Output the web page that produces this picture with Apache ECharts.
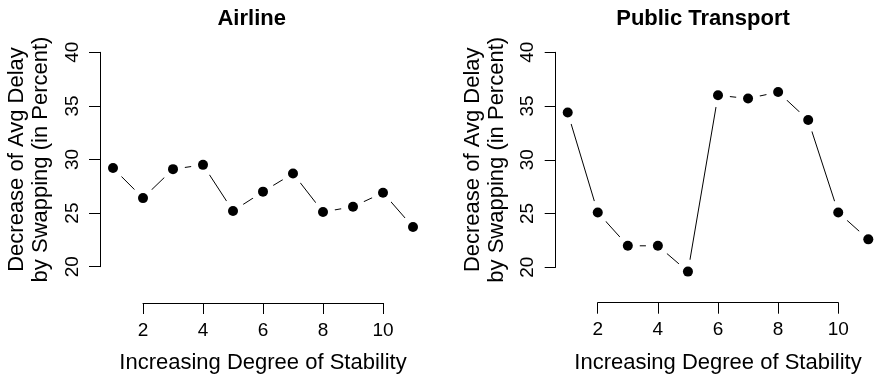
<!DOCTYPE html>
<html>
<head>
<meta charset="utf-8">
<script src="https://cdn.jsdelivr.net/npm/echarts@6/dist/echarts.min.js"></script>
<style>
  html, body { margin: 0; padding: 0; background: #fff; }
  #chart { width: 877px; height: 375px; }
</style>
</head>
<body>
<div id="chart"></div>
<script>
const stability = [1, 2, 3, 4, 5, 6, 7, 8, 9, 10, 11];
const airline = [29.2, 26.4, 29.1, 29.5, 25.2, 27.0, 28.7, 25.1, 25.6, 26.9, 23.7];
const publicTransport = [34.4, 25.1, 22.0, 22.0, 19.6, 36.0, 35.7, 36.3, 33.7, 25.1, 22.6];
const panelTitles = ['Airline', 'Public Transport'];
const xTitle = 'Increasing Degree of Stability';
const yTitle = 'Decrease of Avg Delay\nby Swapping (in Percent)';

const ink = '#000';
const font = 'Liberation Sans, Arial, Helvetica, sans-serif';

// plotting boxes: x 1..11, y 20..40 (R-like layout)
const plotGrids = [
  { left: 113, right: 464, top: 52.3, bottom: 108.3, outerBoundsMode: 'none' },
  { left: 567.7, right: 8.7, top: 52.3, bottom: 107.7, outerBoundsMode: 'none' },
];
// boxes that only carry the detached x axis (2..10)
const axisGrids = [
  { left: 143, right: 494, top: 52.3, bottom: 108.3, outerBoundsMode: 'none' },
  { left: 597.7, right: 38.7, top: 52.3, bottom: 107.7, outerBoundsMode: 'none' },
];
const yOffsets = [13, 12];
const xOffsets = [36.3, 35.4];

const chart = echarts.init(document.getElementById('chart'));

function pairs(values) {
  return stability.map((x, i) => [x, values[i]]);
}

const labelStyle = { fontFamily: font, fontSize: 19, color: ink };
const nameStyle = { fontFamily: font, fontSize: 22, color: ink, lineHeight: 24 };

const option = {
  animation: false,
  title: panelTitles.map((t, i) => ({
    text: t,
    left: i === 0 ? 251.7 : 703,
    top: 8,
    padding: 0,
    textAlign: 'center',
    textStyle: { fontFamily: font, fontSize: 22, fontWeight: 'bold', color: ink },
  })),
  grid: plotGrids.concat(axisGrids),
  xAxis: [],
  yAxis: [],
  series: [],
};

plotGrids.forEach((g, i) => {
  option.xAxis.push({
    type: 'value', gridIndex: i, min: 1, max: 11, show: false,
  });
  option.yAxis.push({
    type: 'value',
    gridIndex: i,
    min: 20, max: 40, interval: 5,
    offset: yOffsets[i],
    z: 10,
    name: yTitle,
    nameLocation: 'middle',
    nameRotate: 90,
    nameGap: 47,
    nameTextStyle: nameStyle,
    axisLine: { show: true, lineStyle: { color: ink, width: 1 } },
    axisTick: { show: true, length: 11, lineStyle: { color: ink, width: 1 } },
    axisLabel: Object.assign({ margin: 18, rotate: 90 }, labelStyle),
    splitLine: { show: false },
  });
});

axisGrids.forEach((g, i) => {
  option.xAxis.push({
    type: 'value',
    gridIndex: 2 + i,
    min: 2, max: 10, interval: 2,
    offset: xOffsets[i],
    z: 10,
    name: xTitle,
    nameLocation: 'middle',
    nameGap: 48,
    nameTextStyle: nameStyle,
    axisLine: { show: true, lineStyle: { color: ink, width: 1 } },
    axisTick: { show: true, length: 11, lineStyle: { color: ink, width: 1 } },
    axisLabel: Object.assign({ margin: 18 }, labelStyle),
    splitLine: { show: false },
  });
  option.yAxis.push({
    type: 'value', gridIndex: 2 + i, min: 20, max: 40, show: false,
  });
});

[airline, publicTransport].forEach((values, i) => {
  // line with white masks around the points (R type = "b")
  option.series.push({
    type: 'line',
    xAxisIndex: i, yAxisIndex: i,
    data: pairs(values),
    clip: false,
    symbol: 'circle',
    symbolSize: 24,
    itemStyle: { color: '#fff', borderWidth: 0, opacity: 1 },
    lineStyle: { color: ink, width: 1 },
    z: 2,
  });
  option.series.push({
    type: 'scatter',
    xAxisIndex: i, yAxisIndex: i,
    data: pairs(values),
    clip: false,
    symbol: 'circle',
    symbolSize: 10,
    itemStyle: { color: ink, opacity: 1 },
    z: 3,
  });
});

chart.setOption(option);
</script>
</body>
</html>
